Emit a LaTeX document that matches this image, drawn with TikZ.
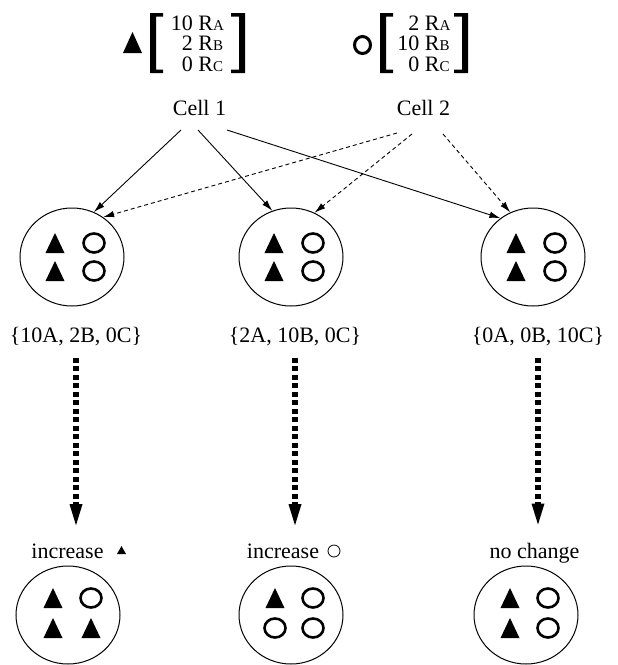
\documentclass[tikz,border=0pt]{standalone}
\usepackage{fontspec}
\setmainfont{Liberation Serif}
\usetikzlibrary{arrows.meta,shapes.geometric}
\newcommand\smc[1]{{\fontsize{15}{15}\selectfont #1}}
\newcommand\symtri[1]{\fill (#1) ++(-9.5,10) -- ++(19,0) -- ++(-9.5,-20) -- cycle;}
\newcommand\symcir[1]{\draw[line width=2.6pt] (#1) ellipse [x radius=10.5pt, y radius=9.5pt];}
\newcommand\lbrk[3]{\fill (#1,#2) -- (#1+13,#2) -- (#1+13,#2+3.5) -- (#1+6,#2+3.5) -- (#1+6,#3-3.5) -- (#1+13,#3-3.5) -- (#1+13,#3) -- (#1,#3) -- cycle;}
\newcommand\rbrk[3]{\fill (#1,#2) -- (#1-14,#2) -- (#1-14,#2+3.5) -- (#1-6,#2+3.5) -- (#1-6,#3-3.5) -- (#1-14,#3-3.5) -- (#1-14,#3) -- (#1,#3) -- cycle;}
\begin{document}
\begin{tikzpicture}[x=1pt,y=-1pt,
  txt/.style={font=\fontsize{22}{20}\selectfont, inner sep=0pt, anchor=base},
  cellc/.style={ellipse, draw, line width=1pt, minimum width=104pt, minimum height=98pt, inner sep=0pt},
  solidarr/.style={line width=0.9pt, -{Latex[length=11pt,width=6.5pt]}},
  dasharr/.style={solidarr, dash pattern=on 4pt off 3pt},
  bigarr/.style={line width=6pt, dash pattern=on 5pt off 3.5pt, -{Triangle[length=21pt,width=13pt,line width=0pt]}}
]
\useasboundingbox (0,0) rectangle (618,665);

% top: cell descriptions
\fill (123,53) -- (142,53) -- (132.5,32) -- cycle;
\lbrk{150}{13}{73}
\node[txt] (m1) at (197.5,30) {\begin{tabular}[t]{@{}r@{\hspace{5.5pt}}l@{}}10 & R\smc{A}\\ 2 & R\smc{B}\\ 0 & R\smc{C}\end{tabular}};
\rbrk{245}{13}{73}

\draw[line width=3pt] (362.5,45) ellipse [x radius=8pt, y radius=8.5pt];
\lbrk{380}{13}{73}
\node[txt] (m2) at (424,30) {\begin{tabular}[t]{@{}r@{\hspace{5.5pt}}l@{}}2 & R\smc{A}\\ 10 & R\smc{B}\\ 0 & R\smc{C}\end{tabular}};
\rbrk{468}{13}{73}

\node[txt] (cell1) at (199.5,115) {Cell 1};
\node[txt] (cell2) at (423.5,115) {Cell 2};

% middle circles
\node[cellc] (c1) at (72,257) {};
\node[cellc] (c2) at (291,257) {};
\node[cellc] (c3) at (533,257) {};
\foreach \c in {c1,c2,c3}{
  \symtri{[shift={(-17,-14)}]\c.center}
  \symcir{[shift={(22,-14)}]\c.center}
  \symtri{[shift={(-17,14)}]\c.center}
  \symcir{[shift={(22,14)}]\c.center}
}

% connectors from cells
\coordinate (s1a) at (181,130);
\coordinate (s1b) at (198,130);
\coordinate (s1c) at (227,130);
\coordinate (s2a) at (397,133);
\coordinate (s2b) at (412,134);
\coordinate (s2c) at (443,134);
\draw[solidarr] (s1a) -- (c1.64);
\draw[solidarr] (s1b) -- (c2.112);
\draw[solidarr] (s1c) -- (c3.130);
\draw[dasharr] (s2a) -- (c1.52);
\draw[dasharr] (s2b) -- (c2.62);
\draw[dasharr] (s2c) -- (c3.117);

% result labels
\node[txt] (l1) at (76,342) {\{10A, 2B, 0C\}};
\node[txt] (l2) at (295,342) {\{2A, 10B, 0C\}};
\node[txt] (l3) at (538,342) {\{0A, 0B, 10C\}};

\node[txt] (i1) at (67.5,558) {increase};
\node[txt] (i2) at (283,558) {increase};
\node[txt] (i3) at (534.5,558) {no change};
\fill (117,554) -- (126,554) -- (121.5,546) -- cycle;
\draw[line width=0.8pt] (334,551) circle [radius=6pt];

\draw[bigarr, shorten <=12pt, shorten >=18pt] (l1.south) -- (l1.south |- i1.north);
\draw[bigarr, shorten <=12pt, shorten >=18pt] (l2.south) -- (l2.south |- i2.north);
\draw[bigarr, shorten <=12pt, shorten >=18pt] (l3.south) -- (l3.south |- i3.north);

% bottom circles
\node[cellc] (d1) at (68,615) {};
\node[cellc] (d2) at (291,615) {};
\node[cellc] (d3) at (526,615) {};
\symtri{[shift={(-15,-17)}]d1.center}
\symcir{[shift={(23,-17)}]d1.center}
\symtri{[shift={(-15,13)}]d1.center}
\symtri{[shift={(23,13)}]d1.center}
\symtri{[shift={(-16,-17)}]d2.center}
\symcir{[shift={(22,-17)}]d2.center}
\symcir{[shift={(-16,13)}]d2.center}
\symcir{[shift={(22,13)}]d2.center}
\symtri{[shift={(-16,-17)}]d3.center}
\symcir{[shift={(22,-17)}]d3.center}
\symtri{[shift={(-16,13)}]d3.center}
\symcir{[shift={(22,13)}]d3.center}
\end{tikzpicture}
\end{document}
